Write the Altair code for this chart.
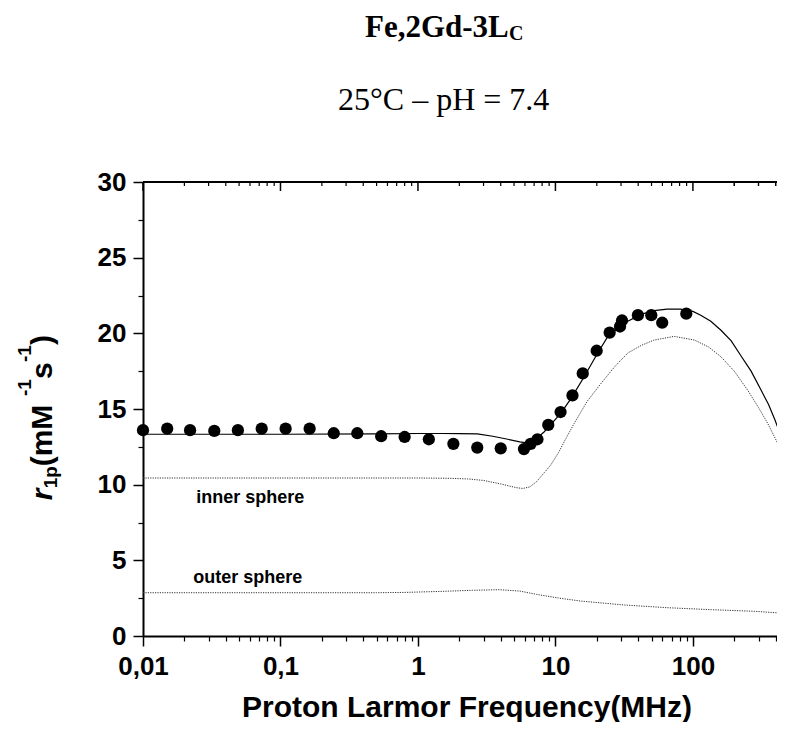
import altair as alt
import pandas as pd

# ---------------- data ----------------
freq_pts = [0.01, 0.015, 0.022, 0.033, 0.049, 0.073, 0.109, 0.163, 0.244, 0.362,
            0.54, 0.80, 1.2, 1.81, 2.7, 4.0, 5.9, 6.6, 7.4, 8.87, 10.9, 13.3,
            15.8, 19.95, 24.8, 29.5, 30.5, 39.8, 49.8, 59.8, 89.5]
r1_pts = [13.6, 13.7, 13.6, 13.55, 13.6, 13.7, 13.7, 13.7, 13.4, 13.4,
          13.2, 13.15, 13.0, 12.7, 12.45, 12.4, 12.35, 12.7, 13.0, 13.95, 14.8, 15.9,
          17.35, 18.85, 20.05, 20.45, 20.85, 21.2, 21.2, 20.7, 21.3]

fit_freq = [0.01, 0.1, 0.5, 1.0, 1.5, 2.0, 2.7, 3.5, 4.5, 5.5, 6.0, 6.6, 7.4, 8.3,
            9.3, 10.9, 13.0, 16.1, 20.0, 23.7, 28.0, 33.6, 42.0, 52.0, 65.0, 81.0,
            100.0, 114.0, 135.0, 160.0, 190.0, 224.0, 265.0, 315.0, 355.0, 394.0,
            430.0, 466.0, 500.0]
fit_r1 = [13.33, 13.33, 13.35, 13.38, 13.38, 13.37, 13.35, 13.2, 13.0, 12.83, 12.78,
          12.85, 13.1, 13.5, 14.0, 14.7, 15.7, 17.1, 18.6, 19.7, 20.3, 20.8, 21.25,
          21.5, 21.6, 21.6, 21.45, 21.2, 20.8, 20.2, 19.5, 18.5, 17.5, 16.2, 15.3,
          14.3, 13.4, 12.5, 11.7]

inner_freq = [0.01, 1.0, 1.7, 2.3, 3.0, 4.0, 5.2, 5.8, 6.5, 7.3, 8.3, 9.25, 10.5,
              12.0, 13.7, 17.0, 21.5, 27.0, 33.6, 42.0, 52.0, 73.0, 103.0, 130.0,
              160.0, 200.0, 250.0, 300.0, 350.0, 410.0, 466.0, 500.0]
inner_r1 = [10.44, 10.44, 10.42, 10.38, 10.28, 10.05, 9.8, 9.75, 9.85, 10.2, 10.8,
            11.3, 12.1, 13.1, 14.05, 15.5, 16.7, 17.8, 18.7, 19.2, 19.55, 19.8, 19.55,
            19.1, 18.45, 17.5, 16.25, 15.1, 14.05, 12.8, 11.6, 10.9]

outer_freq = [0.01, 0.5, 0.8, 1.5, 2.5, 3.9, 5.5, 7.3, 10.5, 15.2, 21.9, 31.5,
              65.0, 136.0, 282.0, 465.0, 500.0]
outer_r1 = [2.86, 2.86, 2.88, 2.95, 3.02, 3.06, 2.97, 2.75, 2.51, 2.31, 2.18, 2.05,
            1.87, 1.74, 1.63, 1.5, 1.48]

label_text = ["inner sphere", "outer sphere"]
label_freq = [0.0244, 0.0232]
label_r1 = [8.81, 3.52]

x_major = [0.01, 0.1, 1, 10, 100]
x_minor = [m * d for d in [0.01, 0.1, 1, 10, 100] for m in range(2, 10)] + [200, 300, 400]
x_minor = [v for v in x_minor if v <= 500]
y_major = [0, 5, 10, 15, 20, 25, 30]
y_minor = [2.5, 7.5, 12.5, 17.5, 22.5, 27.5]

# ---------------- tables ----------------
df_pts = pd.DataFrame({"f": freq_pts, "r": r1_pts})
df_fit = pd.DataFrame({"f": fit_freq, "r": fit_r1})
df_in = pd.DataFrame({"f": inner_freq, "r": inner_r1})
df_out = pd.DataFrame({"f": outer_freq, "r": outer_r1})
df_lab = pd.DataFrame({"f": label_freq, "r": label_r1, "t": label_text})
df_xmaj = pd.DataFrame({"f": x_major})
df_xmin = pd.DataFrame({"f": x_minor})
df_ymaj = pd.DataFrame({"r": y_major})
df_ymin = pd.DataFrame({"r": y_minor})

W, H, RANGE = 634, 454, 646
SANS = "Liberation Sans"
SERIF = "Liberation Serif"

xs = alt.Scale(type="log", domain=[0.01, 500], range=[0, RANGE], nice=False)
ys = alt.Scale(domain=[0, 30], nice=False, zero=False)

major_x_axis = alt.Axis(orient="bottom", values=x_major, tickSize=10, tickWidth=1.5,
                        domainWidth=2, domainColor="black", tickColor="black",
                        labelExpr="replace(toString(datum.value), '.', ',')",
                        labelFont=SANS, labelFontWeight="bold", labelFontSize=26,
                        labelColor="black", labelPadding=7, labelFlush=False,
                        labelOverlap=False, title=None, grid=False)
major_y_axis = alt.Axis(orient="left", values=y_major, tickSize=10, tickWidth=1.5,
                        domainWidth=2, domainColor="black", tickColor="black",
                        labelFont=SANS, labelFontWeight="bold", labelFontSize=26,
                        labelColor="black", labelPadding=7, title=None, grid=False)
minor_x_axis = alt.Axis(orient="bottom", values=x_minor, tickSize=5, tickWidth=1.2,
                        tickColor="black", labels=False, domain=False, title=None, grid=False)
minor_y_axis = alt.Axis(orient="left", values=y_minor, tickSize=5, tickWidth=1.2,
                        tickColor="black", labels=False, domain=False, title=None, grid=False)

points = alt.Chart(df_pts).mark_circle(size=150, color="black", opacity=1).encode(
    x=alt.X("f:Q", scale=xs, axis=major_x_axis),
    y=alt.Y("r:Q", scale=ys, axis=major_y_axis),
)

fit = alt.Chart(df_fit).mark_line(color="black", strokeWidth=1.2).encode(
    x=alt.X("f:Q", scale=xs, axis=minor_x_axis),
    y=alt.Y("r:Q", scale=ys, axis=minor_y_axis),
)

inner = alt.Chart(df_in).mark_line(color="#333333", strokeWidth=1, strokeDash=[1.2, 1.2]).encode(
    x=alt.X("f:Q", scale=xs, axis=None),
    y=alt.Y("r:Q", scale=ys, axis=None),
)
outer = alt.Chart(df_out).mark_line(color="#333333", strokeWidth=1, strokeDash=[1.2, 1.2]).encode(
    x=alt.X("f:Q", scale=xs, axis=None),
    y=alt.Y("r:Q", scale=ys, axis=None),
)

labels = alt.Chart(df_lab).mark_text(align="left", baseline="alphabetic", font=SANS,
                                     fontWeight="bold", fontSize=18, color="black").encode(
    x=alt.X("f:Q", scale=xs, axis=None),
    y=alt.Y("r:Q", scale=ys, axis=None),
    text="t:N",
)

# top frame and inward ticks
top_line = alt.Chart(df_xmaj).mark_rule(color="black", strokeWidth=2).encode(
    x=alt.value(0), x2=alt.value(RANGE), y=alt.value(0))
top_major = alt.Chart(df_xmaj).mark_rule(color="black", strokeWidth=1.5).encode(
    x=alt.X("f:Q", scale=xs, axis=None), y=alt.value(0), y2=alt.value(9))
top_minor = alt.Chart(df_xmin).mark_rule(color="black", strokeWidth=1.2).encode(
    x=alt.X("f:Q", scale=xs, axis=None), y=alt.value(0), y2=alt.value(4))
right_line = alt.Chart(df_ymaj).mark_rule(color="black", strokeWidth=2).encode(
    x=alt.value(RANGE), y=alt.value(0), y2=alt.value(H))
right_major = alt.Chart(df_ymaj).mark_rule(color="black", strokeWidth=1.5).encode(
    y=alt.Y("r:Q", scale=ys, axis=None), x=alt.value(RANGE - 9), x2=alt.value(RANGE))
right_minor = alt.Chart(df_ymin).mark_rule(color="black", strokeWidth=1.2).encode(
    y=alt.Y("r:Q", scale=ys, axis=None), x=alt.value(RANGE - 4), x2=alt.value(RANGE))


def txt(text, x, y, size, font=SANS, weight="bold", style="normal", angle=0, align="left"):
    return alt.Chart(df_xmaj.head(1)).mark_text(
        text=text, font=font, fontSize=size, fontWeight=weight, fontStyle=style,
        angle=angle, align=align, baseline="alphabetic", color="black"
    ).encode(x=alt.value(x), y=alt.value(y))


title_parts = [
    txt("Fe,2Gd-3L", 222, -144.7, 31, font=SERIF),
    txt("C", 366, -141.7, 20, font=SERIF),
    txt("25°C – pH = 7.4", 195, -71.7, 32, font=SERIF, weight="normal"),
    txt("Proton Larmor Frequency(MHz)", 324, 534.5, 30, align="center"),
    txt("r", -91, 318.3, 30, style="italic", angle=270),
    txt("1p", -86, 306.3, 19, angle=270),
    txt("(mM", -91, 284.3, 30, angle=270),
    txt("-1", -112.5, 214.0, 19, angle=270),
    txt("s", -91, 197.0, 30, angle=270),
    txt("-1", -112.5, 180.0, 19, angle=270),
    txt(")", -91, 163.0, 30, angle=270),
]

chart = alt.layer(
    inner, outer, fit, points, labels,
    top_line, top_major, top_minor, right_line, right_major, right_minor,
    *title_parts
).resolve_axis(x="independent", y="independent").properties(
    width=W, height=H,
    autosize=alt.AutoSizeParams(type="none"),
    padding={"left": 135, "top": 174, "right": 0, "bottom": 86},
).configure_view(stroke=None).configure(background="white")

chart.save("out.html", embed_options={"renderer": "svg", "actions": False})
